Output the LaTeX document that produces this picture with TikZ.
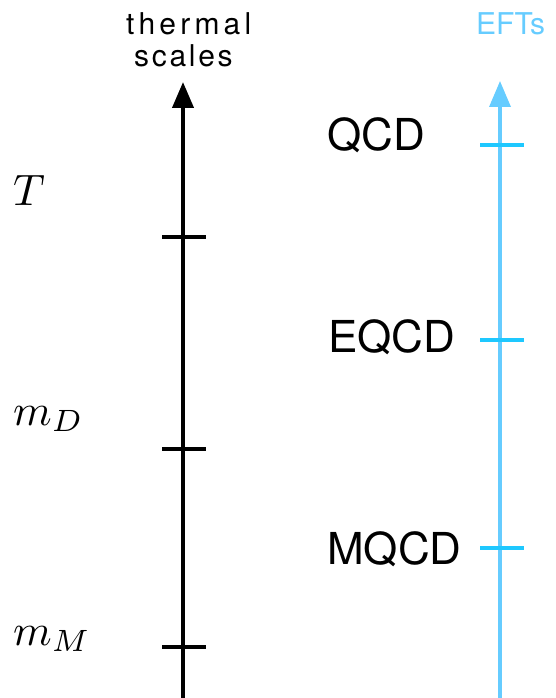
\documentclass[tikz,border=0pt]{standalone}
\usepackage{fontspec}
\setsansfont{TeX Gyre Heros}
\usetikzlibrary{arrows.meta}
\definecolor{axisblue}{RGB}{102,204,255}
\definecolor{tickblue}{RGB}{30,200,255}
\newcommand{\bigmath}[1]{\scalebox{4.4}{$#1$}}
\begin{document}
\begin{tikzpicture}[x=1pt,y=-1pt,
  lbl/.style={inner sep=0pt,anchor=base west,font=\sffamily\fontsize{44}{48}\selectfont},
  mlbl/.style={inner sep=0pt,anchor=base west},
  head/.style={inner sep=0pt,anchor=base west,font=\sffamily\fontsize{30}{34}\selectfont},
  blackaxis/.style={line width=4pt,black,-{Triangle[length=26pt,width=21pt]}},
  blueaxis/.style={line width=3.5pt,axisblue,-{Triangle[length=26pt,width=21pt]}},
  blacktick/.style={line width=4pt,black},
  bluetick/.style={line width=3.5pt,tickblue}]
\useasboundingbox (0,0) rectangle (555,698);
% axes
\coordinate (kb0) at (183,698);
\coordinate (kb1) at (183,82);
\coordinate (bb0) at (500,698);
\coordinate (bb1) at (500,81);
\draw[blackaxis] (kb0) -- (kb1);
\draw[blueaxis] (bb0) -- (bb1);
% black ticks
\foreach \n/\y in {t1/237,t2/449,t3/647}{
  \coordinate (\n l) at (162,\y);
  \coordinate (\n r) at (206,\y);
  \draw[blacktick] (\n l) -- (\n r);
}
% blue ticks
\foreach \n/\y in {u1/145,u2/340,u3/548}{
  \coordinate (\n l) at (480,\y);
  \coordinate (\n r) at (524,\y);
  \draw[bluetick] (\n l) -- (\n r);
}
% headings
\node[head] (th) at (126,35) {\addfontfeature{LetterSpace=14}thermal};
\node[head] (sc) at (134,67) {\addfontfeature{LetterSpace=9}scales};
\node[head,text=axisblue] (efts) at (476,35) {EFTs};
% left labels
\node[mlbl] (lT) at (13,205) {\bigmath{T}};
\node[mlbl] (lD) at (13,425) {\bigmath{m_D}};
\node[mlbl] (lM) at (13,645) {\bigmath{m_M}};
% right labels
\node[lbl] (qcd) at (327,150) {QCD};
\node[lbl] (eqcd) at (328,352) {EQCD};
\node[lbl] (mqcd) at (327,564) {MQCD};
\end{tikzpicture}
\end{document}
